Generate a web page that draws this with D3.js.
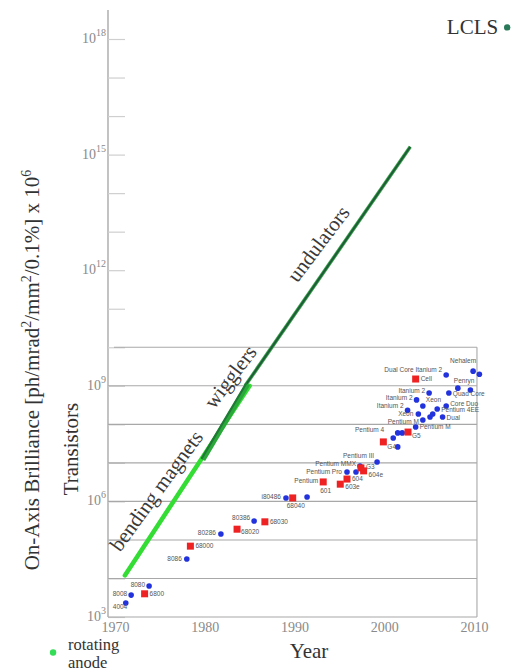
<!DOCTYPE html>
<html><head><meta charset="utf-8">
<script src="https://cdn.jsdelivr.net/npm/d3@7"></script>
<style>
html,body{margin:0;padding:0;background:#fff;}
svg{display:block;}
</style></head>
<body>
<div id="chart"></div>
<script>
// ---------- DATA ----------
const years = [1970, 1980, 1990, 2000, 2010];
const labelledExponents = [3, 6, 9, 12, 15, 18];
const allDecades = d3.range(3, 19);
const mooreGridDecades = [3, 4, 5, 6, 7, 8, 9, 10];

// brilliance evolution lines [year, brilliance]
const bendingMagnets = [[1971.1, 1.2e4], [1985.0, 1.0e9]];
const wigglers = [[1979.8, 1.2e7], [1984.8, 1.1e9]];
const undulators = [[1984.5, 1.0e9], [2002.9, 1.6e15]];
const lcls = [2013.7, 2.0e18];
const rotatingAnode = [1963.1, 1.2e2];

// transistor counts: blue (Intel etc.)
const blueNames = ["4004","8008","8080","8086","80286","80386","i80486","","Pentium Pro","","Pentium MMX","Pentium III",
  "Pentium 4","","","","Pentium M","Pentium M","","","Pentium 4EE","Dual","Core Duo","Quad Core","Itanium 2","Xeon","Itanium 2","Xeon","Itanium 2","Dual Core Itanium 2","Penryn","","Nehalem",""];
const blueYears = [1971.2,1971.8,1973.8,1978.0,1981.8,1985.5,1989.05,1991.4,1995.85,1996.85,1997.3,1999.2,
  2001.0,2001.5,2002.0,2001.5,2003.5,2004.3,2005.1,2005.4,2005.9,2006.5,2006.9,2007.2,2002.6,2003.8,2003.6,2004.3,2005.0,2006.9,2008.2,2009.6,2009.9,2010.6];
const blueCounts = [2.3e3,3.7e3,6.4e3,3.2e4,1.43e5,3.1e5,1.23e6,1.3e6,5.8e6,5.8e6,8.3e6,1.05e7,
  4.4e7,6.0e7,6.0e7,2.6e7,8.5e7,1.29e8,1.55e8,1.86e8,2.5e8,1.55e8,3.0e8,6.5e8,2.3e8,1.86e8,4.3e8,3.0e8,6.5e8,1.9e9,8.7e8,7.8e8,2.4e9,2.0e9];

// transistor counts: red (Motorola / PowerPC / others)
const redNames = ["6800","68000","68020","68030","68040","601","603e","604","G3","604e","G4","G5","Cell"];
const redYears = [1973.3,1978.4,1983.6,1986.7,1989.8,1993.2,1995.1,1995.85,1997.4,1997.7,1999.9,2002.65,2003.5];
const redCounts = [4.0e3,6.9e4,1.9e5,2.95e5,1.23e6,3.2e6,2.8e6,3.8e6,7.4e6,6.2e6,3.5e7,6.3e7,1.5e9];

// ---------- DRAWING ----------
const W = 516, H = 672;
const serif = "'Liberation Serif','Times New Roman',serif";
const sans = "'Liberation Sans',Arial,sans-serif";
const svg = d3.select("#chart").append("svg").attr("width", W).attr("height", H);

const x = d3.scaleLinear().domain([1970, 2010]).range([115, 474]);
const y = d3.scaleLog().domain([1e3, 1e18]).range([617, 39]);
const axisX = x(1969.22), boxRight = x(2010.33);

// y axis line
svg.append("line").attr("x1", axisX).attr("x2", axisX).attr("y1", 10).attr("y2", y(1e3))
  .attr("stroke", "#9a9a9a").attr("stroke-width", 1.2);

// decade ticks
const yAxis = d3.axisRight(y).tickValues(allDecades.map(e => Math.pow(10, e)))
  .tickSize(17).tickSizeOuter(0).tickFormat("");
const gy = svg.append("g").attr("transform", `translate(${axisX},0)`).call(yAxis);
gy.select(".domain").remove();
gy.selectAll(".tick line").attr("stroke", "#cfcfcf").attr("stroke-width", 1.2);

// Moore box grid
svg.append("g").selectAll("line").data(mooreGridDecades).join("line")
  .attr("x1", d => d === 10 ? axisX + 6 : axisX).attr("x2", boxRight)
  .attr("y1", d => y(Math.pow(10, d))).attr("y2", d => y(Math.pow(10, d)))
  .attr("stroke", "#a8a8a8").attr("stroke-width", 1.1);
svg.append("line").attr("x1", boxRight).attr("x2", boxRight)
  .attr("y1", y(1e10)).attr("y2", y(1e3)).attr("stroke", "#a8a8a8").attr("stroke-width", 1.1);

// y tick labels (10^n)
const lab = svg.append("g").selectAll("text").data(labelledExponents).join("text")
  .attr("x", axisX - 2).attr("y", d => y(Math.pow(10, d)) + 4)
  .attr("text-anchor", "end").attr("font-family", serif).attr("fill", "#8a8a8a").attr("font-size", 14);
lab.append("tspan").text("10");
lab.append("tspan").attr("dy", -7).attr("font-size", 10).text(d => d);

// x axis labels
const xAxis = d3.axisBottom(x).tickValues(years).tickSize(0).tickPadding(3).tickFormat(d3.format("d"));
const gx = svg.append("g").attr("transform", `translate(0,${y(1e3) + 2})`).call(xAxis);
gx.select(".domain").remove();
gx.selectAll("text").attr("font-family", serif).attr("font-size", 14).attr("fill", "#8a8a8a");

// brilliance lines
const line = d3.line().x(d => x(d[0])).y(d => y(d[1]));
svg.append("path").datum(bendingMagnets).attr("d", line).attr("stroke", "#33dd33")
  .attr("stroke-width", 4.5).attr("fill", "none").attr("stroke-linecap", "round");
svg.append("path").datum(undulators).attr("d", line).attr("stroke", "#3aa04a")
  .attr("stroke-width", 3.6).attr("fill", "none");
svg.append("path").datum(undulators).attr("d", line).attr("stroke", "#1d5e38")
  .attr("stroke-width", 2).attr("fill", "none");
svg.append("path").datum(wigglers).attr("d", line).attr("stroke", "#2aa83a")
  .attr("stroke-width", 5).attr("fill", "none");
svg.append("path").datum(wigglers).attr("d", line).attr("stroke", "#1f7a35")
  .attr("stroke-width", 2.2).attr("fill", "none").attr("transform", "translate(-1.5,-1)");

// rotated labels along the lines
function rotLabel(t, cx, cy, ang) {
  svg.append("text").attr("transform", `translate(${cx},${cy}) rotate(${ang})`)
    .attr("text-anchor", "middle").attr("font-family", serif).attr("font-size", 21)
    .attr("fill", "#3a3a3a").text(t);
}
rotLabel("bending magnets", 162, 495, -54);
rotLabel("wigglers", 236, 381, -53);
rotLabel("undulators", 324, 248, -53);

// LCLS
svg.append("circle").attr("cx", x(lcls[0])).attr("cy", y(lcls[1])).attr("r", 3.2).attr("fill", "#2a7a5a");
svg.append("text").attr("x", x(lcls[0]) - 9).attr("y", y(lcls[1]) + 7).attr("text-anchor", "end")
  .attr("font-family", serif).attr("font-size", 21).attr("fill", "#333").text("LCLS");

// rotating anode
svg.append("circle").attr("cx", x(rotatingAnode[0])).attr("cy", y(rotatingAnode[1])).attr("r", 3.2).attr("fill", "#33dd55");
svg.append("text").attr("x", 68).attr("y", 650).attr("font-family", serif).attr("font-size", 16.5)
  .attr("fill", "#333").text("rotating");
svg.append("text").attr("x", 68).attr("y", 668).attr("font-family", serif).attr("font-size", 16.5)
  .attr("fill", "#333").text("anode");

// axis titles
const yt = svg.append("text").attr("transform", "translate(39,370) rotate(-90)")
  .attr("text-anchor", "middle").attr("font-family", serif).attr("font-size", 21).attr("fill", "#333");
yt.append("tspan").text("On-Axis Brilliance [ph/mrad");
yt.append("tspan").attr("dy", -8).attr("font-size", 14).text("2");
yt.append("tspan").attr("dy", 8).text("/mm");
yt.append("tspan").attr("dy", -8).attr("font-size", 14).text("2");
yt.append("tspan").attr("dy", 8).text("/0.1%] x 10");
yt.append("tspan").attr("dy", -8).attr("font-size", 14).text("6");

svg.append("text").attr("transform", "translate(78,449) rotate(-90)")
  .attr("text-anchor", "middle").attr("font-family", serif).attr("font-size", 21).attr("fill", "#333").text("Transistors");
svg.append("text").attr("x", 309).attr("y", 658).attr("text-anchor", "middle")
  .attr("font-family", serif).attr("font-size", 21).attr("fill", "#333").text("Year");

// transistor points
const blue = blueNames.map((n, i) => ({name: n, year: blueYears[i], count: blueCounts[i]}));
const red = redNames.map((n, i) => ({name: n, year: redYears[i], count: redCounts[i]}));

svg.append("g").selectAll("circle").data(blue).join("circle")
  .attr("cx", d => x(d.year)).attr("cy", d => y(d.count)).attr("r", 2.8).attr("fill", "#2233dd");
svg.append("g").selectAll("rect").data(red).join("rect")
  .attr("x", d => x(d.year) - 3.5).attr("y", d => y(d.count) - 3.5).attr("width", 7).attr("height", 7).attr("fill", "#ee2222");

// chip labels: offsets relative to marker [dx, dy, anchor]
const place = {
  "4004": [-13, 6, "start"], "8008": [-4, 1, "end"], "8080": [-4, 1, "end"], "8086": [-5, 2, "end"],
  "80286": [-5, 1, "end"], "80386": [-4, -1, "end"], "i80486": [-5, 1, "end"], "Pentium Pro": [-5, 2, "end"],
  "Pentium MMX": [-4, 0, "end"], "Pentium III": [-3, -4, "end"], "Pentium 4": [-9, -6, "end"],
  "Pentium M": [4, 2, "start"], "Pentium 4EE": [4, 3, "start"], "Dual": [4, 3, "start"], "Core Duo": [4, 0, "start"],
  "Quad Core": [4, 3, "start"], "Itanium 2": [-4, 0, "end"], "Xeon": [-5, 2, "end"],
  "Dual Core Itanium 2": [-4, -3, "end"], "Penryn": [-4, -5, "start"], "Nehalem": [3, -8, "end"],
  "6800": [5, 2, "start"], "68000": [5, 2, "start"], "68020": [4, 5, "start"], "68030": [5, 2, "start"],
  "68040": [-6, 10, "start"], "601": [-3, 11, "start"], "603e": [5, 5, "start"], "604": [5, 2, "start"],
  "G3": [5, 1, "start"], "604e": [5, 6, "start"], "G4": [4, 7, "start"], "G5": [4, 6, "start"], "Cell": [5, 2, "start"]
};
const seen = {};
const labelG = svg.append("g").attr("font-family", sans).attr("font-size", 6.5).attr("fill", "#555");
blue.concat(red).forEach(d => {
  if (!d.name) return;
  let p = place[d.name] || [4, 2, "start"];
  seen[d.name] = (seen[d.name] || 0) + 1;
  if (d.name === "Pentium M" && seen[d.name] === 2) p = [-4, 4, "end"];
  if (d.name === "Xeon" && seen[d.name] === 2) p = [3, -4, "start"];
  if (d.name === "Itanium 2" && seen[d.name] === 1) p = [-4, -2, "end"];
  labelG.append("text").attr("x", x(d.year) + p[0]).attr("y", y(d.count) + p[1])
    .attr("text-anchor", p[2]).text(d.name);
});
// extra label for the Pentium next to the 601
labelG.append("text").attr("x", x(redYears[5]) - 5).attr("y", y(redCounts[5]) + 1)
  .attr("text-anchor", "end").text("Pentium");
</script>
</body></html>
